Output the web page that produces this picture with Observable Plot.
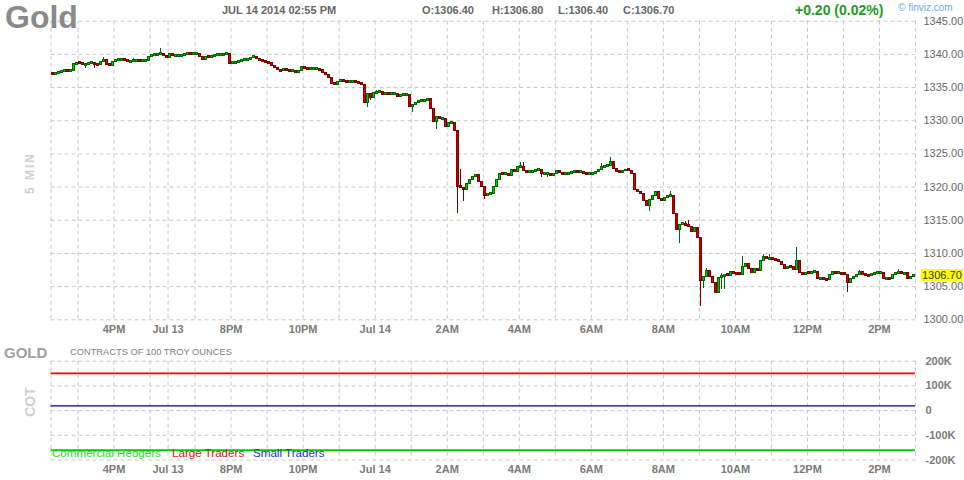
<!DOCTYPE html>
<html><head><meta charset="utf-8">
<script src="https://cdn.jsdelivr.net/npm/d3@7"></script>
<script src="https://cdn.jsdelivr.net/npm/@observablehq/plot@0.6"></script>
<style>
body{margin:0;background:#fff;font-family:Arial,"Liberation Sans",sans-serif;}
#wrap{position:relative;width:964px;height:480px;overflow:hidden;background:#fff;}
#wrap svg{position:absolute;left:0;}
.t{position:absolute;white-space:nowrap;line-height:1;}
.rot{position:absolute;white-space:nowrap;line-height:1;transform:translate(-50%,-50%) rotate(-90deg);font-weight:bold;color:#cfcfcf;}
</style></head><body><div id="wrap"></div>
<script>
// ---------- DATA ----------
const symbol = "Gold";
const headerDate = "JUL 14 2014 02:55 PM";
const quoteLabels = ["O", "H", "L", "C"];
const quoteValues = ["1306.40", "1306.80", "1306.40", "1306.70"];
const changeText = "+0.20 (0.02%)";

const firstOpen = 1337.2;
// 5-minute closes, 288 bars (one row = one hour)
const closes = [
1337.0,1337.2,1337.3,1337.5,1337.5,1337.4,1337.5,1338.5,1338.7,1338.6,1338.4,1338.5,
1338.6,1338.7,1338.5,1338.4,1338.8,1339.1,1338.4,1338.3,1338.9,1339.1,1339.1,1339.2,
1339.1,1338.8,1339.0,1339.0,1339.1,1339.0,1339.0,1339.0,1339.6,1339.9,1339.9,1339.9,
1340.1,1339.8,1339.4,1340.1,1339.7,1339.7,1339.8,1339.8,1340.0,1340.1,1340.0,1340.0,
1340.0,1339.6,1339.2,1339.6,1339.5,1339.6,1339.8,1339.9,1339.9,1340.0,1340.0,1338.6,
1338.7,1338.7,1338.9,1339.1,1339.2,1339.2,1339.5,1339.6,1339.3,1339.1,1339.0,1338.8,
1338.7,1338.3,1337.9,1337.6,1337.5,1337.7,1337.5,1337.4,1337.5,1337.3,1337.5,1338.1,
1337.9,1337.8,1337.8,1337.8,1337.8,1337.6,1337.2,1336.9,1336.5,1335.6,1335.4,1335.9,
1336.2,1335.9,1335.8,1335.8,1335.9,1335.8,1335.6,1335.4,1332.7,1334.0,1333.5,1334.2,
1334.3,1334.3,1333.9,1334.2,1334.0,1334.1,1334.1,1333.6,1333.8,1333.9,1333.9,1332.0,
1332.4,1332.7,1333.0,1333.0,1333.0,1333.2,1331.8,1329.8,1330.6,1330.2,1330.2,1329.0,
1329.6,1329.6,1328.5,1320.0,1319.9,1319.5,1320.5,1321.0,1321.5,1321.8,1320.7,1320.0,
1318.7,1319.0,1319.0,1320.0,1321.1,1322.0,1321.9,1321.9,1321.7,1322.6,1322.3,1323.0,
1323.0,1322.5,1322.1,1322.3,1322.3,1322.6,1322.6,1322.0,1322.0,1322.0,1321.6,1322.0,
1322.5,1322.1,1321.9,1322.0,1322.0,1322.3,1322.3,1322.2,1322.2,1322.0,1321.8,1322.0,
1322.0,1322.3,1322.6,1323.0,1323.2,1323.2,1323.8,1322.8,1322.3,1322.1,1322.4,1322.6,
1322.5,1321.9,1319.6,1319.2,1319.0,1317.9,1317.1,1318.0,1318.6,1319.2,1318.2,1317.9,
1318.3,1318.6,1318.6,1315.9,1313.5,1314.3,1314.5,1314.2,1314.0,1313.2,1313.9,1312.3,
1305.9,1306.4,1307.3,1306.5,1305.6,1304.1,1306.3,1306.5,1306.8,1306.6,1307.2,1307.0,
1306.9,1306.8,1308.0,1308.4,1307.7,1307.0,1307.6,1307.4,1308.9,1309.5,1309.1,1309.2,
1309.0,1308.9,1308.7,1308.2,1307.6,1308.0,1307.9,1307.5,1308.9,1307.0,1306.8,1307.1,
1307.0,1307.2,1307.2,1306.2,1306.2,1306.1,1306.0,1306.7,1307.2,1307.0,1307.0,1306.9,
1306.8,1305.6,1306.1,1306.5,1306.8,1307.2,1306.8,1306.7,1306.6,1306.9,1307.0,1307.0,
1307.0,1306.2,1306.2,1306.1,1306.7,1307.0,1307.2,1306.9,1307.0,1306.2,1306.4,1306.7
];
// visible wicks beyond the body
const wickIdx  = [11,14,17,27,36,58,105,106,108,120,128,135,136,137,144,156,157,163,165,183,186,199,206,209,211,212,216,217,218,221,223,224,230,237,239,248,265,269,282];
const wickHigh = [null,null,1339.6,1339.4,1340.9,1340.3,null,null,1334.6,null,null,null,1322.6,null,null,1323.7,1323.7,null,null,1323.6,1324.4,null,1319.4,null,1314.8,1314.9,null,null,1307.8,null,1307.0,null,1309.6,1309.9,1309.9,1310.9,null,1307.5,1307.6];
const wickLow  = [1337.9,1337.9,null,null,null,null,1332.0,1333.0,null,1331.2,1328.7,1316.0,null,1317.9,1318.2,null,null,1321.4,1321.4,null,null,1316.3,null,1311.5,null,null,1302.0,1304.7,null,1303.9,1304.6,1304.5,null,null,null,null,1304.1,null,null];

const barCount = 288;
const gridIdx  = [0,9,21,33,39,48,60,72,84,96,108,120,132,144,156,168,180,192,204,216,228,240,252,264,276,288];
const labelIdx = [21,39,60,84,108,132,156,180,204,228,252,276];
const labelText = ["4PM","Jul 13","8PM","10PM","Jul 14","2AM","4AM","6AM","8AM","10AM","12PM","2PM"];
const priceTicks = [1300,1305,1310,1315,1320,1325,1330,1335,1340,1345];

const cotTitle = "GOLD";
const cotSubtitle = "CONTRACTS OF 100 TROY OUNCES";
const cotTicks = [-200000,-100000,0,100000,200000];
const cotNames  = ["Commercial Hedgers","Large Traders","Small Traders"];
const cotValues = [-161000, 151000, 19000];
const cotColors = ["#00cc00","#ff0000","#000088"];
const cotTextColors = ["#22dd22","#e01010","#2233cc"];

// ---------- BUILD ----------
const FONT = 'Arial, "Liberation Sans", sans-serif';
const UP = "#00cc00", UPD = "#006400", DN = "#dd0000", DND = "#7a0000";
const labelMap = new Map(labelIdx.map((d, k) => [d, labelText[k]]));

const bars = closes.map((c, i) => {
  const o = i === 0 ? firstOpen : closes[i - 1];
  const k = wickIdx.indexOf(i);
  const wh = k >= 0 && wickHigh[k] != null ? wickHigh[k] : -Infinity;
  const wl = k >= 0 && wickLow[k] != null ? wickLow[k] : Infinity;
  const bLo = Math.min(o, c), bTop = Math.max(o, c);
  const mid = (bLo + bTop) / 2;
  const flat = bTop - bLo < 0.3;
  return {i, i1: i + 1, xc: i + 0.5, o, c,
    hi: Math.max(bTop, wh), lo: Math.min(bLo, wl), up: c >= o,
    bLo: flat ? mid - 0.15 : bLo, bHi: flat ? mid + 0.15 : bTop};
});
const wickBars = bars.filter(d => d.hi > Math.max(d.o, d.c) || d.lo < Math.min(d.o, d.c));

const gridStyle = {stroke: "#c8c8c8", strokeOpacity: 1, strokeDasharray: "4,3"};
const common = {width: 964, marginLeft: 50.5, marginRight: 49,
  style: {fontFamily: FONT, background: "transparent", overflow: "visible"},
  color: {type: "identity"}};

const main = Plot.plot({
  ...common, height: 340, marginTop: 20.7, marginBottom: 20.7,
  x: {domain: [0, barCount], axis: null},
  y: {domain: [1300, 1345], axis: null},
  marks: [
    Plot.gridY(priceTicks, gridStyle),
    Plot.gridX(gridIdx, gridStyle),
    Plot.axisY(priceTicks, {anchor: "right", tickSize: 0, tickPadding: 8, label: null,
      tickFormat: d3.format(".2f"), fontSize: 11, color: "#666"}),
    Plot.axisX(labelIdx, {anchor: "bottom", tickSize: 0, tickPadding: 5, label: null,
      tickFormat: d => labelMap.get(d), fontSize: 11, fontWeight: "bold", color: "#7a7a7a"}),
    Plot.ruleX(wickBars, {x: "xc", y1: "lo", y2: "hi", stroke: d => d.up ? UPD : DND, strokeWidth: 1,
      shapeRendering: "crispEdges"}),
    Plot.rect(bars, {x1: "i", x2: "i1", y1: "bLo", y2: "bHi",
      fill: d => d.up ? UP : DN, stroke: d => d.up ? UPD : DND, strokeWidth: 1,
      insetLeft: 0.5, insetRight: 0.5, shapeRendering: "crispEdges"})
  ]
});
main.style.top = "0px";

const cotData = cotNames.map((n, k) => ({name: n, value: cotValues[k], color: cotColors[k]}));
const cotWidths = [2, 1.8, 1.4];
const cot = Plot.plot({
  ...common, height: 140, marginTop: 20.7, marginBottom: 20.5,
  x: {domain: [0, barCount], axis: null},
  y: {domain: [-200000, 200000], axis: null},
  marks: [
    Plot.gridY(cotTicks, gridStyle),
    Plot.gridX(gridIdx, gridStyle),
    Plot.axisY(cotTicks, {anchor: "right", tickSize: 0, tickPadding: 10, label: null,
      tickFormat: d => d === 0 ? "0" : (d / 1000) + "K", fontSize: 11, fontWeight: "bold", color: "#7a7a7a"}),
    Plot.axisX(labelIdx, {anchor: "bottom", tickSize: 0, tickPadding: 5, label: null,
      tickFormat: d => labelMap.get(d), fontSize: 11, fontWeight: "bold", color: "#7a7a7a"}),
    Plot.ruleY(cotData, {y: "value", stroke: "color", strokeWidth: (d, k) => cotWidths[k]})
  ]
});
cot.style.top = "340px";

const wrap = document.getElementById("wrap");
wrap.appendChild(main);
wrap.appendChild(cot);

function addText(txt, css) {
  const el = document.createElement("div");
  el.className = "t";
  el.textContent = txt;
  Object.assign(el.style, css);
  wrap.appendChild(el);
  return el;
}
// header
addText(symbol, {left: "5px", top: "1px", fontSize: "32px", fontWeight: "bold", color: "#8a8a8a"});
addText(headerDate, {left: "222px", top: "4.6px", fontSize: "11px", fontWeight: "bold", color: "#666"});
const qx = [422, 492, 558, 623];
quoteLabels.forEach((l, k) => addText(l + ":" + quoteValues[k],
  {left: qx[k] + "px", top: "4.6px", fontSize: "11px", fontWeight: "bold", color: "#666"}));
addText(changeText, {left: "795px", top: "3px", fontSize: "14px", fontWeight: "bold", color: "#1f9a1f"});
addText("\u00A9 finviz.com", {left: "898px", top: "3px", fontSize: "10px", color: "#6aaee0"});

// last price flag
const yLast = main.scale("y").apply(closes[closes.length - 1]);
addText(closes[closes.length - 1].toFixed(2), {left: "921px", top: (yLast - 6) + "px", height: "12px",
  lineHeight: "12px", fontSize: "11px", color: "#333", background: "#ffff00", padding: "0 1px"});

// side labels
const r1 = document.createElement("div"); r1.className = "rot"; r1.textContent = "5 MIN";
Object.assign(r1.style, {left: "30px", top: "173px", fontSize: "12px", letterSpacing: "2px"}); wrap.appendChild(r1);
const r2 = document.createElement("div"); r2.className = "rot"; r2.textContent = "COT";
Object.assign(r2.style, {left: "30px", top: "402px", fontSize: "14px"}); wrap.appendChild(r2);

// COT titles
addText(cotTitle, {left: "4px", top: "344.6px", fontSize: "15px", fontWeight: "bold", color: "#a0a0a0"});
addText(cotSubtitle, {left: "70px", top: "348px", fontSize: "9.3px", color: "#808080"});

// COT legend
const lx = [52, 172, 253];
cotNames.forEach((n, k) => addText(n, {left: lx[k] + "px", top: "446.5px", fontSize: "11.6px", color: cotTextColors[k]}));
</script>
</body></html>
